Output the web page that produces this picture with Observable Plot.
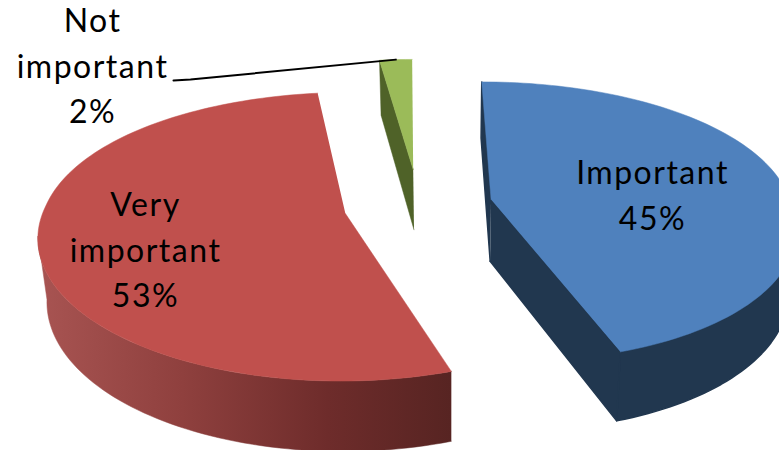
<!DOCTYPE html>
<html>
<head>
<meta charset="utf-8">
<script src="https://cdn.jsdelivr.net/npm/d3@7"></script>
<script src="https://cdn.jsdelivr.net/npm/@observablehq/plot@0.6"></script>
<style>
  html, body { margin: 0; padding: 0; background: #fff; }
  svg { display: block; }
</style>
</head>
<body>
<div id="chart"></div>
<script>
// Survey shares, in pie order clockwise from twelve o'clock
const categories = ["Important", "Very important", "Not important"];
const shares = [45, 53, 2];

// Label lines for each slice
const labelLines = [
  ["Important", "45%"],
  ["Very", "important", "53%"],
  ["Not", "important", "2%"]
];

// Slice colours
const topColors = ["#4f81bd", "#c0504d", "#9bbb59"];
const faceColors = ["#21374f", "#7a3533", "#4f6228"];

// Camera and pie set-up for the 3D view
const view = {
  cx: 417.6, cy: 204.8,    // pie centre on the page
  a: 300, b: 138,          // horizontal and vertical radius
  tilt: 0.159,             // perspective strength
  tiltBackX: 0.12,         // horizontal narrowing of the far half
  drift: 48,               // sideways drift of the near half of the pie
  backDrift: 1.5,          // sideways drift of the far half
  explodeX: 74.3 / 300,    // slice pull-out across, in radii
  explodeY: 37.4 / 138     // slice pull-out in depth, in radii
};

// Project a point on the pie plane to the page; level 1 is the underside of the disc
function project(X, Y, level = 0) {
  const w = 1 - view.tilt * Y;
  const wx = Y > 0 ? w : 1 - view.tiltBackX * Y;
  const drift = Y > 0 ? view.drift * (1 / w - 1) : view.backDrift * Y;
  const sx = view.cx + drift + (view.a * X) / wx;
  const sy = view.cy + (view.b * Y) / w;
  if (!level) return {x: sx, y: sy};
  return {x: 450 + (sx - 450) * 0.978, y: sy + 55 + (sy - 60) * 0.048};
}

const rad = d => (d * Math.PI) / 180;
const total = d3.sum(shares);
let running = 0;
const slices = categories.map((name, i) => {
  const start = (running / total) * 360;
  running += shares[i];
  const end = (running / total) * 360;
  const mid = rad((start + end) / 2);
  return {
    name, i, start, end,
    ox: view.explodeX * Math.sin(mid),
    oy: -view.explodeY * Math.cos(mid)
  };
});

const rimPoint = (s, deg, level) =>
  project(s.ox + Math.sin(rad(deg)), s.oy - Math.cos(rad(deg)), level);
const hub = (s, level) => project(s.ox, s.oy, level);
const arc = (s, from, to, level) => {
  const n = Math.max(2, Math.ceil(Math.abs(to - from) / 1.5));
  return d3.range(n + 1).map(k => rimPoint(s, from + ((to - from) * k) / n, level));
};

// Outer wall between the top rim and the bottom rim, limited to the part facing the viewer
const wallOf = s => {
  const from = Math.max(s.start, 99), to = Math.min(s.end, 261);
  if (from >= to) return [];
  return [...arc(s, from, to, 0), ...arc(s, to, from, 1)];
};
// Flat cut face running from the hub out to the rim at a given angle
const cutOf = (s, deg) => [hub(s, 0), rimPoint(s, deg, 0), rimPoint(s, deg, 1), hub(s, 1)];
const topOf = s => [hub(s, 0), ...arc(s, s.start, s.end, 0)];

const [blue, red, green] = slices;
const poly = (pts, fill, strokeWidth = 0.5) =>
  Plot.line(pts, {x: "x", y: "y", fill, stroke: fill, strokeWidth, curve: "linear"});

// Horizontal shading along the red wall
const gradient = () => {
  const defs = d3.create("svg:defs");
  const g = defs.append("linearGradient").attr("id", "redWall");
  [[0, "#a85452"], [0.35, "#8f403e"], [0.7, "#6e2c2b"], [1, "#572422"]].forEach(([o, c]) =>
    g.append("stop").attr("offset", o).attr("stop-color", c));
  return defs.node();
};

// One text row per label line
const lineGap = 45.5;
const anchors = [{x: 652, y: 185}, {x: 145, y: 217}, {x: 92, y: 33}];
const labelRows = labelLines.flatMap((lines, i) =>
  lines.map((text, k) => ({text, x: anchors[i].x, y: anchors[i].y + k * lineGap})));

// Leader from the "Not important" label to the small slice
const greenRim = rimPoint(green, (green.start + green.end) / 2, 0);
const leader = [{x: 173, y: 80}, {x: 190, y: 79}, {x: greenRim.x, y: greenRim.y}];

const chart = Plot.plot({
  width: 779,
  height: 450,
  margin: 0,
  style: {letterSpacing: "1.5px", background: "#fff"},
  x: {domain: [0, 779], range: [0, 779], axis: null},
  y: {domain: [0, 450], range: [0, 450], axis: null},
  marks: [
    gradient,
    poly(wallOf(blue), faceColors[0], 1.5),
    poly(cutOf(blue, blue.start), faceColors[0], 1.5),
    poly(cutOf(blue, blue.end), faceColors[0], 1.5),
    poly(topOf(blue), topColors[0]),
    poly(wallOf(red), "url(#redWall)"),
    poly(topOf(red), topColors[1]),
    poly(cutOf(green, green.start), faceColors[2]),
    poly(topOf(green), topColors[2]),
    Plot.line(leader, {x: "x", y: "y", stroke: "#000", strokeWidth: 2, curve: "linear"}),
    Plot.text(labelRows, {
      x: "x", y: "y", text: "text",
      lineAnchor: "bottom",
      fontSize: 32,
      fontFamily: "Lato",
      fill: "#000",
      dy: -1.5
    })
  ]
});
document.getElementById("chart").append(chart);
</script>
</body>
</html>
